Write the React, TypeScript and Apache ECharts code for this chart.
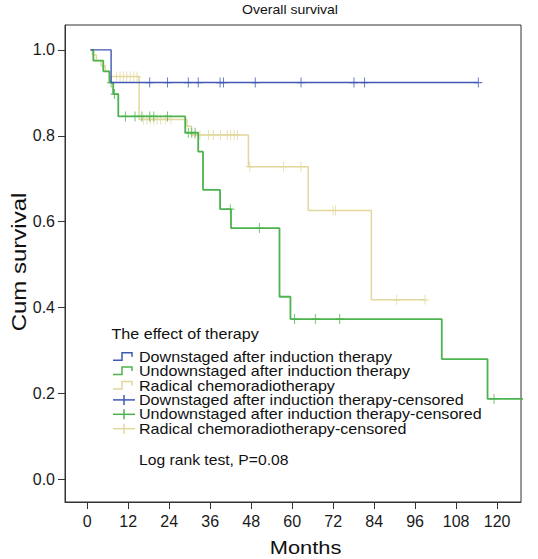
import React, { useEffect, useRef } from "react";
import * as echarts from "echarts";

// ---- axis ticks ----
const xTicks = [0, 12, 24, 36, 48, 60, 72, 84, 96, 108, 120];
const yTicks = [0, 0.2, 0.4, 0.6, 0.8, 1.0];

// ---- texts ----
const chartTitle = "Overall survival";
const xAxisTitle = "Months";
const yAxisTitle = "Cum survival";
const legendTitle = "The effect of therapy";
const groupNames = [
  "Downstaged after induction therapy",
  "Undownstaged after induction therapy",
  "Radical chemoradiotherapy",
];
const censorSuffix = "-censored";
const testNote = "Log rank test, P=0.08";
const colors = ["#3f58b4", "#4db34f", "#e2d89c"];

// ---- Downstaged after induction therapy ----
const downTimes = [1, 7, 114.5];
const downSurv = [1, 0.924, 0.924];
const downCensored = [18.3, 23.5, 29.6, 32.5, 38.9, 39.9, 49.2, 62.6, 78.1, 81.2, 114.5];

// ---- Undownstaged after induction therapy ----
const undownTimes = [1, 1.8, 4.7, 6.5, 7.6, 9.1, 28.7, 32.5, 33.9, 38.9, 42.1, 56.3, 59.5, 103.8, 117.2, 130];
const undownSurv = [1, 0.975, 0.95, 0.924, 0.897, 0.845, 0.807, 0.763, 0.674, 0.629, 0.585, 0.425, 0.373, 0.28, 0.187, 0.187];
const undownCensored = [7, 8, 11.2, 14, 16, 18.3, 19.5, 23.5, 29.6, 30.6, 31.6, 41.9, 50.4, 60.7, 66.8, 73.9, 119.1];

// ---- Radical chemoradiotherapy ----
const radTimes = [1, 1.5, 2.7, 4, 5.3, 6.5, 15.2, 29.2, 30.5, 47.2, 64.7, 83.2, 98.9];
const radSurv = [1, 0.988, 0.975, 0.963, 0.95, 0.938, 0.838, 0.822, 0.802, 0.728, 0.626, 0.418, 0.418];
const radCensored = [
  8.6, 9.6, 10.6, 11.6, 12.6, 13.6, 14.6,
  16.5, 17.5, 18.5, 19.5, 20.5, 21.5, 23, 24.5,
  31.5, 33, 35.5, 37, 39, 41, 42, 43, 44,
  47.6, 57.5, 62.6, 72, 72.7, 90.6, 98.9,
];

const FONT = '"Liberation Sans", Arial, Helvetica, sans-serif';
const PLUS =
  "path://M-0.6,-5L0.6,-5L0.6,-0.6L5,-0.6L5,0.6L0.6,0.6L0.6,5L-0.6,5L-0.6,0.6L-5,0.6L-5,-0.6L-0.6,-0.6Z";

function survAt(times: number[], surv: number[], t: number) {
  let s = surv[0];
  for (let i = 0; i < times.length; i++) if (times[i] <= t) s = surv[i];
  return s;
}

function curve(times: number[], surv: number[], color: string, z: number, width: number) {
  return {
    type: "line",
    step: "end",
    data: times.map((t, i) => [t, surv[i]]),
    symbol: "none",
    lineStyle: { color, width },
    z,
    silent: true,
  };
}

function censors(times: number[], surv: number[], cens: number[], color: string, z: number) {
  return {
    type: "scatter",
    data: cens.map((t) => [t, survAt(times, surv, t)]),
    symbol: PLUS,
    symbolSize: [8, 10],
    itemStyle: { color },
    z,
    silent: true,
  };
}

export default function App() {
  const ref = useRef<HTMLDivElement>(null);
  useEffect(() => {
    if (!ref.current) return;
    const chart = echarts.init(ref.current, undefined, { renderer: "svg" });

    const legendX = 113;
    const rowY0 = 356.7;
    const rowGap = 14.4;
    const legendGraphics: any[] = [];
    legendGraphics.push({
      type: "text",
      x: 111.5,
      y: 333.5,
      scaleX: 1.15,
      style: { text: legendTitle, fill: "#111", font: `14px ${FONT}`, textAlign: "left", textVerticalAlign: "middle" },
    });
    const rows = [
      ...groupNames.map((n, i) => ({ label: n, color: colors[i], kind: "step" })),
      ...groupNames.map((n, i) => ({ label: n + censorSuffix, color: colors[i], kind: "plus" })),
    ];
    rows.forEach((r, i) => {
      const y = rowY0 + i * rowGap;
      if (r.kind === "step") {
        legendGraphics.push({
          type: "polyline",
          shape: { points: [[legendX, y + 3.5], [legendX + 9, y + 3.5], [legendX + 9, y - 4], [legendX + 19, y - 4], [legendX + 19, y]] },
          style: { stroke: r.color, lineWidth: 1.5, fill: null },
        });
      } else {
        legendGraphics.push({
          type: "line",
          shape: { x1: legendX, y1: y, x2: legendX + 22, y2: y },
          style: { stroke: r.color, lineWidth: 1.5 },
        });
        legendGraphics.push({
          type: "line",
          shape: { x1: legendX + 11, y1: y - 5, x2: legendX + 11, y2: y + 5 },
          style: { stroke: r.color, lineWidth: 1.5 },
        });
      }
      legendGraphics.push({
        type: "text",
        x: 139,
        y: y,
        scaleX: 1.15,
        style: { text: r.label, fill: "#111", font: `14px ${FONT}`, textAlign: "left", textVerticalAlign: "middle" },
      });
    });

    const option: any = {
      animation: false,
      backgroundColor: "#fff",
      grid: {
        left: 65,
        right: 17,
        top: 25,
        bottom: 57,
        show: true,
        borderColor: "#333",
        borderWidth: 1,
        backgroundColor: "transparent",
      },
      xAxis: {
        type: "value",
        min: -6.5,
        max: 127,
        axisLine: { show: true, onZero: false, lineStyle: { color: "#333", width: 1 } },
        axisTick: { show: true, length: 7, customValues: xTicks, lineStyle: { color: "#333" } },
        axisLabel: { customValues: xTicks, fontSize: 16, fontFamily: FONT, color: "#1a1a1a", margin: 11 },
        splitLine: { show: false },
      },
      yAxis: {
        type: "value",
        min: -0.053,
        max: 1.058,
        axisLine: { show: true, onZero: false, lineStyle: { color: "#333", width: 1 } },
        axisTick: { show: true, length: 7, customValues: yTicks, lineStyle: { color: "#333" } },
        axisLabel: {
          customValues: yTicks,
          formatter: (v: number) => v.toFixed(1),
          fontSize: 16,
          fontFamily: FONT,
          color: "#1a1a1a",
          margin: 10,
        },
        splitLine: { show: false },
      },
      series: [
        curve(radTimes, radSurv, colors[2], 2, 1.5),
        censors(radTimes, radSurv, radCensored, colors[2], 3),
        curve(undownTimes, undownSurv, colors[1], 4, 1.8),
        censors(undownTimes, undownSurv, undownCensored, colors[1], 5),
        curve(downTimes, downSurv, colors[0], 6, 1.4),
        censors(downTimes, downSurv, downCensored, colors[0], 7),
      ],
      graphic: [
        {
          type: "text",
          x: 290,
          y: 10,
          scaleX: 1.08,
          style: { text: chartTitle, fill: "#111", font: `13px ${FONT}`, textAlign: "center", textVerticalAlign: "middle" },
        },
        {
          type: "text",
          x: 305.5,
          y: 547,
          scaleX: 1.15,
          style: { text: xAxisTitle, fill: "#111", font: `19px ${FONT}`, textAlign: "center", textVerticalAlign: "middle" },
        },
        {
          type: "text",
          x: 19,
          y: 262,
          rotation: Math.PI / 2,
          scaleX: 1.2,
          style: { text: yAxisTitle, fill: "#111", font: `20px ${FONT}`, textAlign: "center", textVerticalAlign: "middle" },
        },
        ...legendGraphics,
        {
          type: "text",
          x: 139,
          y: 460.5,
          scaleX: 1.12,
          style: { text: testNote, fill: "#111", font: `14px ${FONT}`, textAlign: "left", textVerticalAlign: "middle" },
        },
      ],
    };
    chart.setOption(option);
    return () => chart.dispose();
  }, []);

  return (
    <div
      ref={ref}
      style={{ position: "fixed", left: 0, top: 0, width: 538, height: 559, background: "#fff" }}
    />
  );
}
